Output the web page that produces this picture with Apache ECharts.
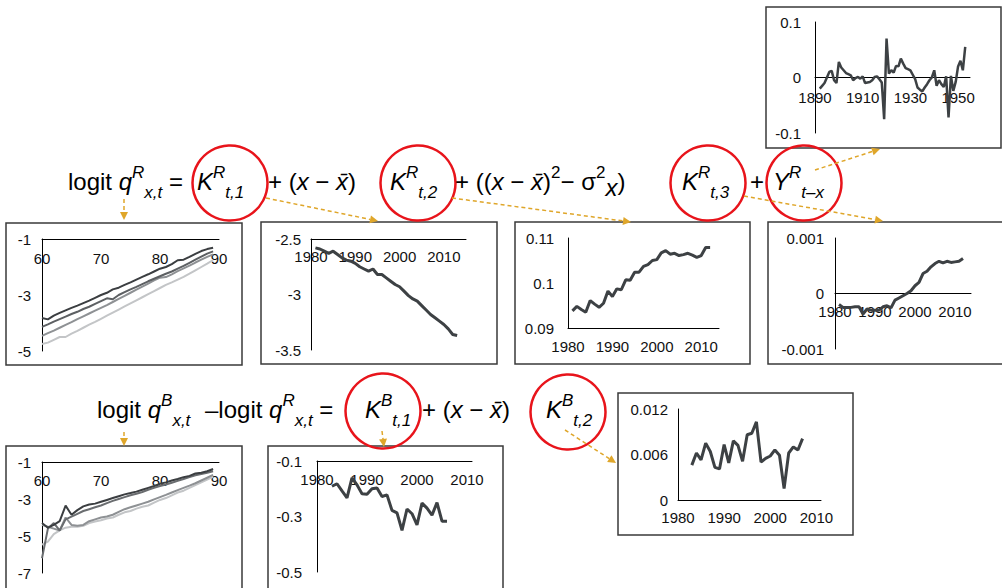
<!DOCTYPE html>
<html><head><meta charset="utf-8">
<script src="https://cdn.jsdelivr.net/npm/echarts@6/dist/echarts.min.js"></script>
<style>html,body{margin:0;padding:0;background:#fff}#c{width:1002px;height:588px}</style>
</head><body><div id="c"></div><script>
// ---------- DATA ----------
const ages = [60,61,62,63,64,65,66,67,68,69,70,71,72,73,74,75,76,77,78,79,80,81,82,83,84,85,86,87,88,89];
const logitR1 = [-3.82,-3.87,-3.74,-3.64,-3.55,-3.46,-3.38,-3.29,-3.20,-3.10,-3.00,-2.92,-2.80,-2.74,-2.64,-2.55,-2.45,-2.35,-2.26,-2.16,-2.06,-2.00,-1.90,-1.76,-1.74,-1.64,-1.53,-1.43,-1.36,-1.31];
const logitR2 = [-4.14,-4.05,-3.95,-3.86,-3.77,-3.68,-3.60,-3.50,-3.42,-3.32,-3.22,-3.12,-3.15,-3.00,-2.90,-2.80,-2.71,-2.61,-2.51,-2.42,-2.33,-2.24,-2.16,-2.06,-1.96,-1.85,-1.74,-1.63,-1.52,-1.44];
const logitR3 = [-4.46,-4.36,-4.27,-4.17,-4.07,-3.97,-3.86,-3.76,-3.66,-3.56,-3.46,-3.36,-3.25,-3.14,-3.03,-2.92,-2.81,-2.70,-2.59,-2.48,-2.38,-2.36,-2.26,-2.15,-2.05,-1.95,-1.84,-1.74,-1.64,-1.55];
const logitR4 = [-4.75,-4.70,-4.60,-4.50,-4.50,-4.38,-4.28,-4.17,-4.06,-3.96,-3.85,-3.74,-3.63,-3.52,-3.41,-3.30,-3.19,-3.08,-2.97,-2.86,-2.75,-2.64,-2.55,-2.45,-2.35,-2.24,-2.12,-2.00,-1.88,-1.75];

const yearsKR1 = [1981,1982,1983,1984,1985,1986,1987,1988,1989,1990,1991,1992,1993,1994,1995,1996,1997,1998,1999,2000,2001,2002,2003,2004,2005,2006,2007,2008,2009,2010,2011,2012,2013];
const kR1 = [-2.58,-2.59,-2.61,-2.63,-2.61,-2.64,-2.67,-2.69,-2.70,-2.72,-2.75,-2.77,-2.79,-2.77,-2.82,-2.82,-2.85,-2.88,-2.91,-2.93,-2.97,-3.01,-3.04,-3.06,-3.10,-3.14,-3.18,-3.21,-3.24,-3.27,-3.31,-3.36,-3.37];

const yearsKR2 = [1981,1982,1983,1984,1985,1986,1987,1988,1989,1990,1991,1992,1993,1994,1995,1996,1997,1998,1999,2000,2001,2002,2003,2004,2005,2006,2007,2008,2009,2010,2011,2012];
const kR2 = [0.0938,0.0948,0.0941,0.0935,0.0961,0.0953,0.0946,0.0955,0.0982,0.0970,0.0987,0.0985,0.1007,0.1006,0.1024,0.1024,0.1037,0.1041,0.1050,0.1052,0.1067,0.1072,0.1064,0.1066,0.1061,0.1063,0.1066,0.1062,0.1057,0.1061,0.1079,0.1079];

const yearsKR3 = [1981,1982,1983,1984,1985,1986,1987,1988,1989,1990,1991,1992,1993,1994,1995,1996,1997,1998,1999,2000,2001,2002,2003,2004,2005,2006,2007,2008,2009,2010,2011,2012];
const kR3 = [-0.00020,-0.00025,-0.00025,-0.00025,-0.00024,-0.00024,-0.00037,-0.00028,-0.00030,-0.00030,-0.00030,-0.00024,-0.00022,-0.00026,-0.00012,-0.00008,-0.00004,0.00000,0.00005,0.00014,0.00020,0.00036,0.00040,0.00048,0.00054,0.00058,0.00055,0.00058,0.00056,0.00057,0.00058,0.00063];

const cohorts = [1892,1893,1894,1895,1896,1897,1898,1899,1900,1901,1902,1903,1904,1905,1906,1907,1908,1909,1910,1911,1912,1913,1914,1915,1916,1917,1918,1919,1920,1921,1922,1923,1924,1925,1926,1927,1928,1929,1930,1931,1932,1933,1934,1935,1936,1937,1938,1939,1940,1941,1942,1943,1944,1945,1946,1947,1948,1949,1950,1951,1952,1953];
const gammaR = [-0.020,-0.015,-0.010,0.000,0.010,0.012,-0.005,-0.010,0.028,0.018,0.013,0.008,0.006,0.004,-0.005,-0.001,0.001,-0.002,0.002,-0.010,-0.009,-0.008,-0.005,0.001,0.002,-0.003,-0.009,-0.075,0.070,0.007,0.013,0.009,0.021,0.020,0.034,0.025,0.017,0.015,0.013,0.005,-0.003,-0.018,-0.022,-0.025,-0.018,-0.012,-0.005,0.000,0.013,-0.015,-0.005,-0.012,-0.017,0.002,-0.072,0.003,-0.024,-0.008,0.020,0.030,0.013,0.055];

const logitB1 = [-4.30,-4.55,-4.40,-4.20,-3.36,-3.85,-3.60,-3.40,-3.30,-3.25,-3.15,-3.05,-2.95,-2.85,-2.75,-2.68,-2.60,-2.50,-2.40,-2.30,-2.18,-2.10,-2.00,-1.92,-1.82,-1.75,-1.62,-1.58,-1.50,-1.38];
const logitB2 = [-6.20,-4.60,-4.30,-4.70,-4.10,-3.95,-3.80,-3.65,-3.55,-3.45,-3.35,-3.22,-3.10,-3.00,-2.90,-2.80,-2.72,-2.62,-2.50,-2.40,-2.30,-2.22,-2.12,-2.02,-1.92,-1.82,-1.72,-1.65,-1.58,-1.50];
const logitB3 = [-4.40,-4.50,-4.60,-4.70,-4.00,-4.40,-4.45,-4.40,-4.20,-4.10,-4.00,-3.95,-3.85,-3.70,-3.55,-3.45,-3.35,-3.25,-3.15,-3.02,-2.90,-2.78,-2.65,-2.52,-2.40,-2.28,-2.15,-2.00,-1.85,-1.70];
const logitB4 = [-5.47,-5.30,-4.90,-4.70,-4.55,-4.50,-4.50,-4.45,-4.30,-4.22,-4.15,-4.05,-4.00,-3.85,-3.72,-3.65,-3.52,-3.42,-3.35,-3.20,-3.05,-2.95,-2.80,-2.65,-2.55,-2.40,-2.25,-2.10,-1.95,-1.80];

const yearsKB1 = [1983,1984,1985,1986,1987,1988,1989,1990,1991,1992,1993,1994,1995,1996,1997,1998,1999,2000,2001,2002,2003,2004,2005,2006];
const kB1 = [-0.191,-0.182,-0.208,-0.233,-0.161,-0.186,-0.218,-0.220,-0.200,-0.197,-0.228,-0.222,-0.278,-0.287,-0.350,-0.273,-0.290,-0.330,-0.252,-0.270,-0.295,-0.250,-0.317,-0.317];

const yearsKB2 = [1983,1984,1985,1986,1987,1988,1989,1990,1991,1992,1993,1994,1995,1996,1997,1998,1999,2000,2001,2002,2003,2004,2005,2006,2007];
const kB2 = [0.0046,0.0062,0.0053,0.0075,0.0064,0.0043,0.0041,0.0073,0.0049,0.0078,0.0072,0.0051,0.0086,0.0088,0.0103,0.0050,0.0055,0.0058,0.0066,0.0059,0.0015,0.0062,0.0070,0.0066,0.0081];

// ---------- LAYOUT ----------
const FONT = '"Liberation Sans", Arial, Helvetica, sans-serif';
const grids = [
  {left:815, top:22,  width:155, height:111}, // 0 cohort inset
  {left:42,  top:239, width:177, height:112}, // 1 logit R
  {left:311, top:239, width:155, height:111}, // 2 kR1
  {left:568, top:238, width:151, height:90},  // 3 kR2
  {left:835, top:238, width:136, height:111}, // 4 kR3
  {left:42,  top:462, width:177, height:111}, // 5 logit B
  {left:317, top:461, width:155, height:111}, // 6 kB1
  {left:678, top:409, width:143, height:91}   // 7 kB2
].map(g => Object.assign({containLabel:false, outerBoundsMode:'none'}, g));

const lbl = (extra) => Object.assign({color:'#111', fontSize:15, fontFamily:FONT}, extra);
function xAx(gi, min, max, interval, step, pos, inside, margin, offset) {
  return {type:'value', gridIndex:gi, min, max, interval, position:pos, offset: offset || 0,
    splitLine:{show:false}, axisTick:{show:false},
    axisLine:{show:true, onZero:false, lineStyle:{color:'#000', width:1}},
    axisLabel: lbl({inside, margin, showMinLabel:true, showMaxLabel:true,
      formatter: v => ((Math.round(v) - min) % step === 0 ? String(Math.round(v)) : '')})};
}
function yAx(gi, min, max, interval, margin, fmt) {
  const a = {type:'value', gridIndex:gi, min, max, interval,
    splitLine:{show:false}, axisTick:{show:false},
    axisLine:{show:true, onZero:false, lineStyle:{color:'#000', width:1}},
    axisLabel: lbl({margin, showMinLabel:true, showMaxLabel:true})};
  if (fmt) a.axisLabel.formatter = fmt;
  return a;
}
const oddInt = v => (Math.abs(Math.round(v)) % 2 === 1 ? String(Math.round(v)) : '');
const xAxes = [
  xAx(0, 1890, 1955, 5, 20, 'bottom', false, 12, -55.5),
  xAx(1, 60, 90, 10, 10, 'top', true, 12),
  xAx(2, 1980, 2015, 5, 10, 'top', true, 10),
  xAx(3, 1980, 2014, 2, 10, 'bottom', false, 11),
  xAx(4, 1980, 2014, 2, 10, 'bottom', false, 10, -55.5),
  xAx(5, 60, 90, 10, 10, 'top', true, 11),
  xAx(6, 1980, 2011, 1, 10, 'top', true, 11),
  xAx(7, 1980, 2011, 1, 10, 'bottom', false, 10)
];
const yAxes = [
  yAx(0, -0.1, 0.1, 0.1, 14),
  yAx(1, -5, -1, 1, 11, oddInt),
  yAx(2, -3.5, -2.5, 0.5, 10),
  yAx(3, 0.09, 0.11, 0.01, 14, v => String(Math.round(v*100)/100)),
  yAx(4, -0.001, 0.001, 0.001, 11, v => { const k = Math.round(v*1000); return k === 0 ? '0' : (k < 0 ? '-0.001' : '0.001'); }),
  yAx(5, -7, -1, 1, 11, oddInt),
  yAx(6, -0.5, -0.1, 0.1, 15, v => { const k = Math.round(Math.abs(v)*10); return k % 2 === 1 ? '-0.' + k : ''; }),
  yAx(7, 0, 0.012, 0.006, 10, v => { const k = Math.round(v*1000); return k === 0 ? '0' : '0.0' + (k < 10 ? '0' + k : k); })
];

const pairs = (xs, ys) => xs.map((x, i) => [x, ys[i]]);
const DARK = '#3d4144';
function ln(gi, xs, ys, color, width) {
  return {type:'line', xAxisIndex:gi, yAxisIndex:gi, data:pairs(xs, ys), showSymbol:false, symbol:'none',
    silent:true, animation:false, lineStyle:{color, width}, z:3};
}
const series = [
  ln(0, cohorts, gammaR, DARK, 2.5),
  ln(1, ages, logitR4, '#c3c5c7', 2), ln(1, ages, logitR3, '#8e9194', 2), ln(1, ages, logitR2, '#5d6063', 2), ln(1, ages, logitR1, '#3b3e41', 2),
  ln(2, yearsKR1, kR1, DARK, 3),
  ln(3, yearsKR2, kR2, DARK, 3),
  ln(4, yearsKR3, kR3, DARK, 3),
  ln(5, ages, logitB4, '#c3c5c7', 2), ln(5, ages, logitB3, '#8e9194', 2), ln(5, ages, logitB2, '#6a6d70', 2), ln(5, ages, logitB1, '#3b3e41', 2),
  ln(6, yearsKB1, kB1, DARK, 3),
  ln(7, yearsKB2, kB2, DARK, 3)
];

// ---------- GRAPHICS: boxes, equations, circles, arrows ----------
const G = [];
const BOX = '#3a3a3a';
function box(x, y, w, h) { G.push({type:'rect', z:1, silent:true, shape:{x, y, width:w, height:h}, style:{fill:'none', stroke:BOX, lineWidth:1.5}}); }
box(766, 7, 235, 141);
box(6, 223, 236, 142);
box(261, 222, 236, 142);
box(515, 222, 235, 142);
box(768, 222, 250, 142);
box(6, 446, 236, 160);
box(268, 446, 235, 160);
box(618, 393, 235, 142);

const mctx = document.createElement('canvas').getContext('2d');
function fontStr(size, it) { return (it ? 'italic ' : '') + size + 'px ' + FONT; }
function measure(t, size, it) { mctx.font = fontStr(size, it); return mctx.measureText(t).width; }
// parts: [text, kind('m','sup','sub','low'), italic]
function seq(x0, base, parts) {
  let x = x0;
  parts.forEach(([t, kind, it]) => {
    const size = (kind === 'sup' || kind === 'sub') ? 17 : 24;
    const b = kind === 'sup' ? base - 12 : kind === 'sub' ? base + 8 : kind === 'low' ? base + 6 : base;
    G.push({type:'text', z:10, silent:true, x:x, y:b - 0.35*size,
      style:{text:t, font:fontStr(size, it), fill:'#000', align:'left', verticalAlign:'middle'}});
    x += measure(t, size, it);
  });
}
const XB = 'x\u0304';
// top equation
seq(68, 190, [['logit ', 'm', false], ['q', 'm', true], ['R', 'sup', true], ['x,t', 'sub', true], [' =', 'm', false]]);
seq(197, 190, [['K', 'm', true], ['R', 'sup', true], ['t,1', 'sub', true]]);
seq(268, 190, [['+ (', 'm', false], ['x', 'm', true], [' \u2212 ', 'm', false], [XB, 'm', true], [')', 'm', false]]);
seq(390, 190, [['K', 'm', true], ['R', 'sup', true], ['t,2', 'sub', true]]);
seq(455, 190, [['+ ((', 'm', false], ['x', 'm', true], [' \u2212 ', 'm', false], [XB, 'm', true], [')', 'm', false], ['2', 'sup', false], ['\u2212 \u03c3', 'm', false], ['2', 'sup', false], ['x', 'low', true], [')', 'm', false]]);
seq(682, 190, [['K', 'm', true], ['R', 'sup', true], ['t,3', 'sub', true]]);
seq(750, 190, [['+', 'm', false]]);
seq(773, 190, [['Y', 'm', true], ['R', 'sup', true], ['t\u2013x', 'sub', true]]);
// bottom equation
seq(97, 418, [['logit ', 'm', false], ['q', 'm', true], ['B', 'sup', true], ['x,t', 'sub', true]]);
seq(205, 418, [['\u2013logit ', 'm', false], ['q', 'm', true], ['R', 'sup', true], ['x,t', 'sub', true], [' =', 'm', false]]);
seq(365, 418, [['K', 'm', true], ['B', 'sup', true], ['t,1', 'sub', true]]);
seq(422, 418, [['+ (', 'm', false], ['x', 'm', true], [' \u2212 ', 'm', false], [XB, 'm', true], [')', 'm', false]]);
seq(546, 418, [['K', 'm', true], ['B', 'sup', true], ['t,2', 'sub', true]]);

// red circles
function circ(cx, cy, r) { G.push({type:'circle', z:9, silent:true, shape:{cx, cy, r}, style:{fill:'none', stroke:'#e8141b', lineWidth:2.5}}); }
circ(230, 183, 37.5); circ(418, 183, 37.5); circ(708, 183, 37.5); circ(804, 183, 37.5);
circ(383, 411, 37.5); circ(568, 412, 37.5);

// dashed golden arrows
const GOLD = '#dfa62a';
function arrow(x1, y1, x2, y2) {
  const a = Math.atan2(y2 - y1, x2 - x1), L = 8, W = 4;
  const c = Math.cos(a), s = Math.sin(a);
  const bx = x2 - L*c, by = y2 - L*s;
  G.push({type:'line', z:11, silent:true, shape:{x1, y1, x2:bx, y2:by}, style:{stroke:GOLD, lineWidth:1.5, lineDash:[4,3]}});
  G.push({type:'polygon', z:11, silent:true, shape:{points:[[x2, y2], [bx - W*s, by + W*c], [bx + W*s, by - W*c]]}, style:{fill:GOLD}});
}
arrow(124, 199, 124, 220);
arrow(266, 198, 378, 221);
arrow(452, 198, 631, 222);
arrow(744, 196, 883, 221);
arrow(815, 170, 880, 149);
arrow(124, 432, 124, 446);
arrow(382, 431, 384, 447);
arrow(565, 430, 616, 463);

const chart = echarts.init(document.getElementById('c'), null, {renderer:'svg', width:1002, height:588});
chart.setOption({
  animation:false,
  backgroundColor:'#ffffff',
  grid: grids, xAxis: xAxes, yAxis: yAxes, series,
  graphic: {elements: G}
});
</script></body></html>
